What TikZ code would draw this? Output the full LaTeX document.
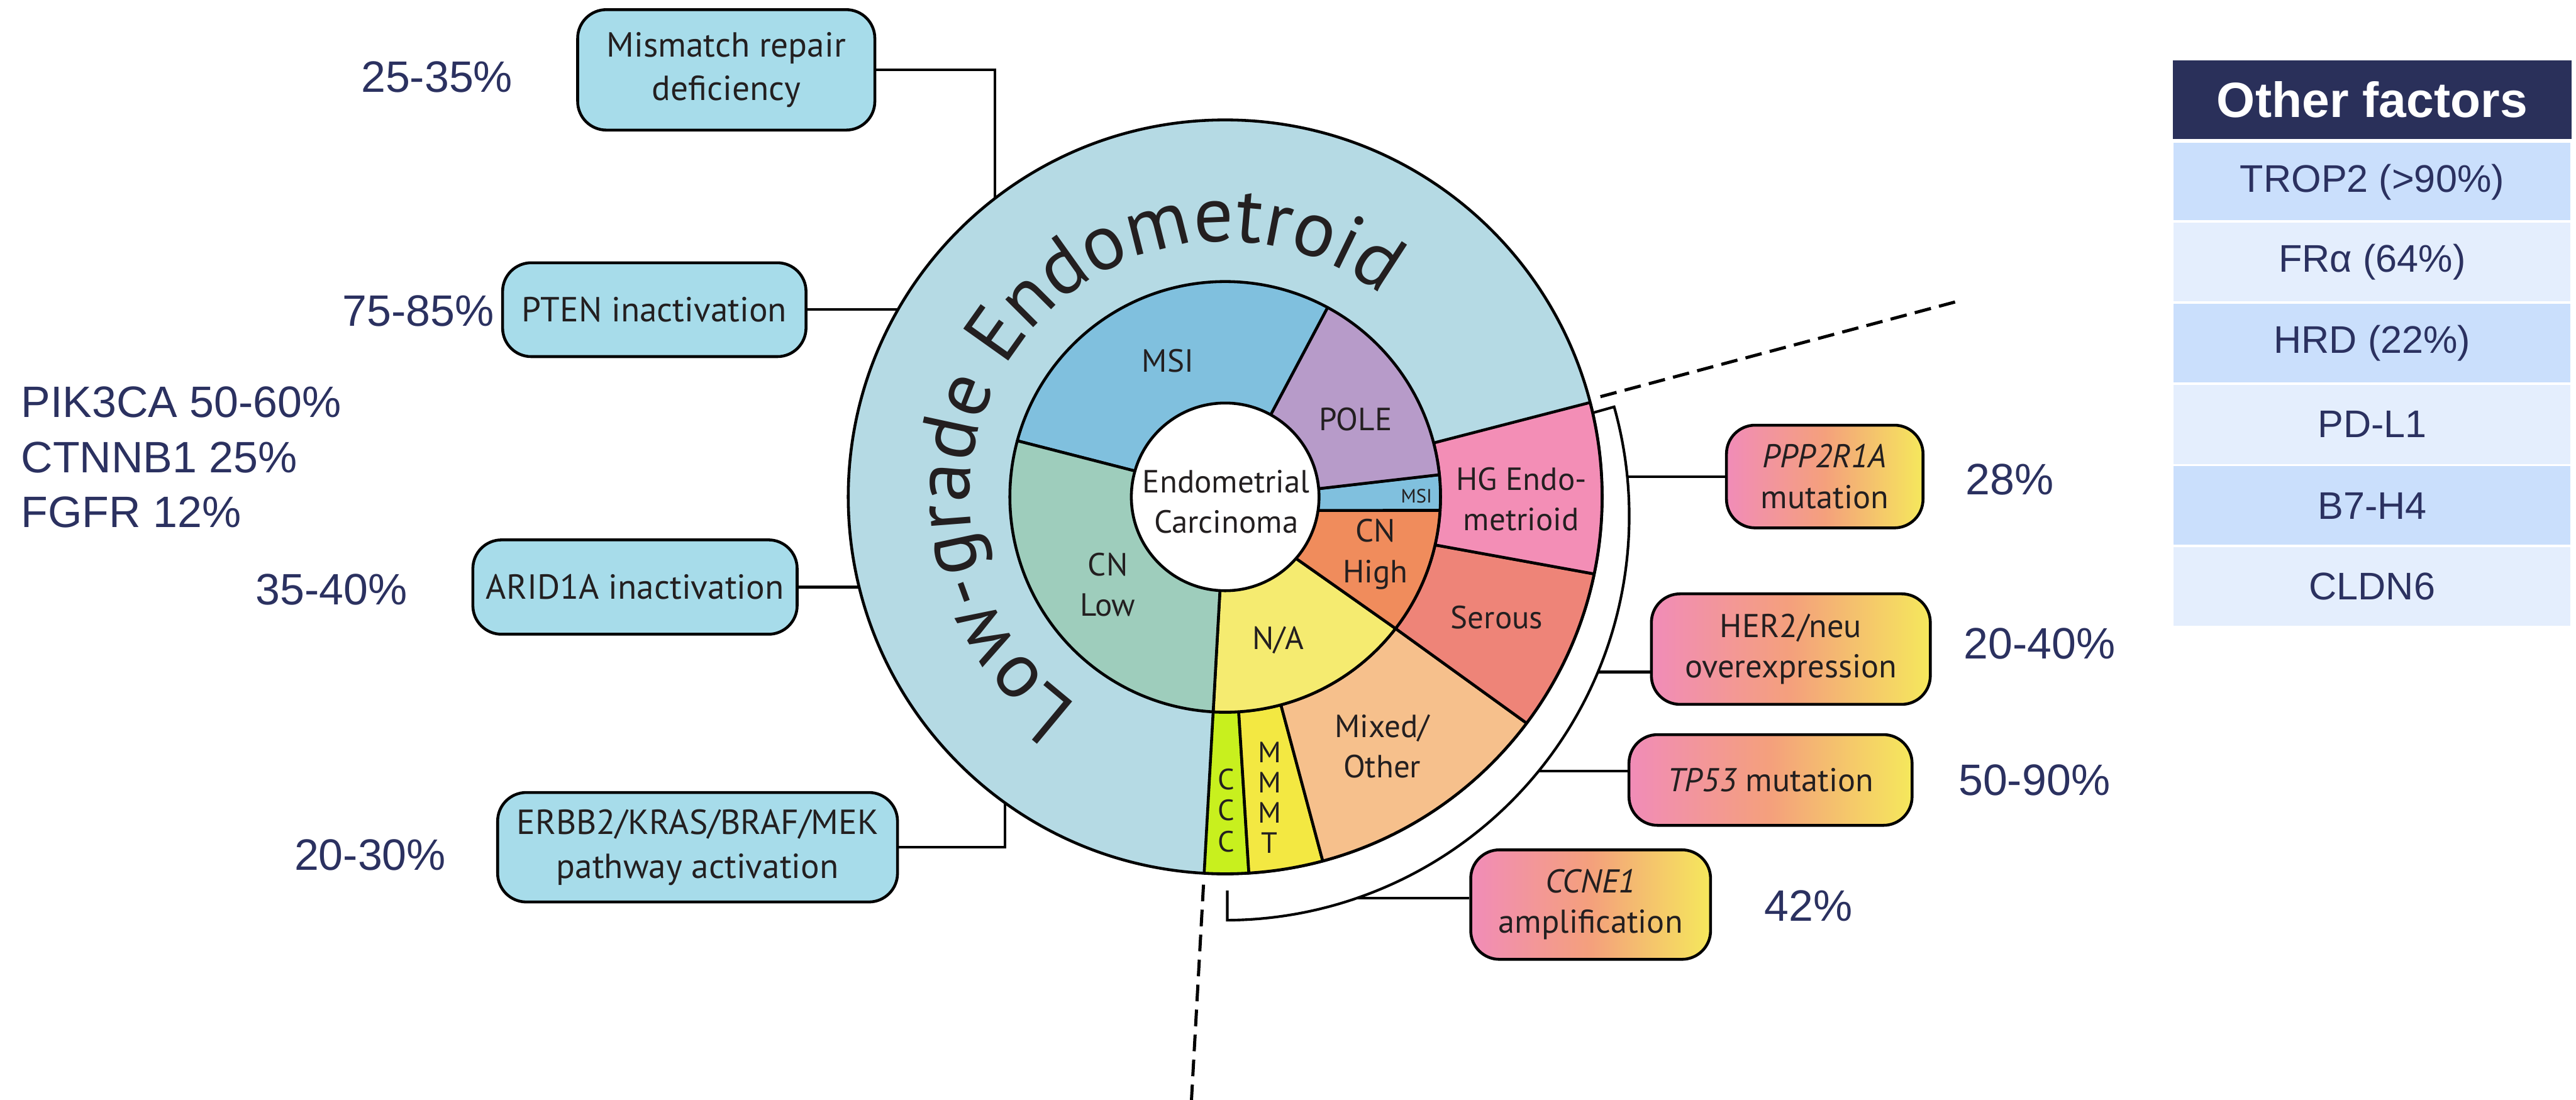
\documentclass[tikz,border=0pt]{standalone}
\usepackage{fontspec}
\setmainfont{PT Sans}
\newfontfamily\arialfont{Liberation Sans}
\usetikzlibrary{decorations.text}

\definecolor{lowgrade}{RGB}{181,218,228}
\definecolor{msiblue}{RGB}{128,192,222}
\definecolor{polepurple}{RGB}{183,155,201}
\definecolor{cnlow}{RGB}{158,205,188}
\definecolor{nayellow}{RGB}{245,235,112}
\definecolor{cnhigh}{RGB}{240,140,92}
\definecolor{hgpink}{RGB}{243,142,182}
\definecolor{serous}{RGB}{238,132,120}
\definecolor{mixed}{RGB}{246,192,140}
\definecolor{mmmt}{RGB}{243,232,66}
\definecolor{ccc}{RGB}{200,240,30}
\definecolor{boxblue}{RGB}{167,220,234}
\definecolor{gradpink}{RGB}{241,140,184}
\definecolor{gradsalmon}{RGB}{244,160,124}
\definecolor{gradyellow}{RGB}{245,232,92}
\definecolor{inkdark}{RGB}{35,31,32}
\definecolor{navy}{RGB}{43,49,96}
\definecolor{headnavy}{RGB}{42,48,90}
\definecolor{rowdark}{RGB}{202,223,252}
\definecolor{rowlight}{RGB}{228,238,253}

\tikzset{
  seg/.style={draw=black, line width=0.055cm, line join=round},
  conn/.style={draw=black, line width=0.05cm},
  guide/.style={draw=black, line width=0.06cm, dash pattern=on 0.32cm off 0.16cm},
  lgbox/.style={draw=black, line width=0.055cm, rounded corners=0.55cm, fill=boxblue,
    align=center, inner sep=0pt, text=inkdark, font=\fontsize{19}{24}\selectfont},
  hgbox/.style={draw=black, line width=0.055cm, rounded corners=0.55cm,
    left color=gradpink, right color=gradyellow, middle color=gradsalmon,
    align=center, inner sep=0pt, text=inkdark, font=\fontsize{18}{22}\selectfont},
  pct/.style={text=navy, inner sep=0pt, font=\arialfont\fontsize{24}{30}\selectfont},
  lbl/.style={align=center, inner sep=0pt, text=inkdark, font=\fontsize{17.5}{22}\selectfont},
  factor/.style={draw=white, line width=0.04cm, minimum width=7.65cm, minimum height=1.555cm,
    text=navy, font=\arialfont\fontsize{21}{25}\selectfont}
}

\begin{document}
\begin{tikzpicture}
\useasboundingbox (0,0) rectangle (49.41,21.09);

% Pie of subtypes
\begin{scope}[shift={(23.50,11.56)}]
  % low-grade disk
  \draw[seg, fill=lowgrade] (0,0) circle[radius=7.23];
  % outer ring, high-grade histotypes
  \draw[seg, fill=ccc] (-93.2:4.13) -- (-93.2:7.23) arc[start angle=-93.2, end angle=-86.4, radius=7.23]
    -- (-86.4:4.13) arc[start angle=-86.4, end angle=-93.2, radius=4.13] -- cycle;
  \draw[seg, fill=mmmt] (-86.4:4.13) -- (-86.4:7.23) arc[start angle=-86.4, end angle=-75, radius=7.23]
    -- (-75:4.13) arc[start angle=-75, end angle=-86.4, radius=4.13] -- cycle;
  \draw[seg, fill=mixed] (-75:4.13) -- (-75:7.23) arc[start angle=-75, end angle=-36.9, radius=7.23]
    -- (-37.7:4.13) arc[start angle=-37.7, end angle=-75, radius=4.13] -- cycle;
  \draw[seg, fill=serous] (-37.7:4.13) -- (-36.9:7.23) arc[start angle=-36.9, end angle=-11.8, radius=7.23]
    -- (-12.9:4.13) arc[start angle=-12.9, end angle=-37.7, radius=4.13] -- cycle;
  \draw[seg, fill=hgpink] (-12.9:4.13) -- (-11.8:7.23) arc[start angle=-11.8, end angle=14.5, radius=7.23]
    -- (14.5:4.13) arc[start angle=14.5, end angle=-12.9, radius=4.13] -- cycle;
  % inner ring, molecular classes
  \draw[seg, fill=nayellow] (-93.2:1.8) -- (-93.2:4.13) arc[start angle=-93.2, end angle=-37.7, radius=4.13] -- (-41:1.8) -- cycle;
  \draw[seg, fill=cnhigh] (-41:1.8) -- (-37.7:4.13) arc[start angle=-37.7, end angle=-3.6, radius=4.13] -- (-8.3:1.8) -- cycle;
  \draw[seg, fill=msiblue] (-8.3:1.8) -- (-3.6:4.13) arc[start angle=-3.6, end angle=5.9, radius=4.13] -- (5:1.8) -- cycle;
  \draw[seg, fill=polepurple] (5:1.8) -- (5.9:4.13) arc[start angle=5.9, end angle=61.6, radius=4.13] -- (61:1.8) -- cycle;
  \draw[seg, fill=msiblue] (61:1.8) -- (61.6:4.13) arc[start angle=61.6, end angle=164.9, radius=4.13] -- (164:1.8) -- cycle;
  \draw[seg, fill=cnlow] (164:1.8) -- (164.9:4.13) arc[start angle=164.9, end angle=266.8, radius=4.13] -- (266.8:1.8) -- cycle;
  % centre
  \draw[seg, fill=white] (0,0) circle[radius=1.8];
  % curved title
  \path[postaction={decorate}, decoration={text along path, text align=center,
      text={|\fontsize{43}{43}\selectfont\color{inkdark}|Low-grade Endometroid}}]
    (234:4.9) arc[start angle=234, end angle=53, radius=4.9];
  % guide lines
  \draw[guide] (14.95:7.45) -- (14.95:14.5);
  \draw[guide] (266.8:7.45) -- (266.8:11.7);
\end{scope}

% bracket round the high-grade ring
\begin{scope}[shift={(23.50,11.19)}]
  \draw[conn, line join=miter] (15.7:7.35) -- (15.7:7.75) arc[start angle=15.7, end angle=-89.7, radius=7.75] -- ++(0,0.57);
\end{scope}

% Pie labels
\node[lbl] (msiA) at (22.40,14.17) {MSI};
\node[lbl] (pole) at (26.00,13.05) {POLE};
\node[lbl] (ec) at (23.52,11.47) {Endometrial\\Carcinoma};
\node[lbl, font=\fontsize{10.5}{12}\selectfont] (msiB) at (27.17,11.57) {MSI};
\node[lbl] (cnlowL) at (21.25,9.88) {CN\\Low};
\node[lbl] (cnhighL) at (26.38,10.46) {CN\\High};
\node[lbl] (na) at (24.52,8.81) {N/A};
\node[lbl] (hg) at (29.18,11.52) {HG Endo-\\metrioid};
\node[lbl] (ser) at (28.71,9.25) {Serous};
\node[lbl] (mix) at (26.51,6.78) {Mixed/\\Other};
\node[lbl, font=\fontsize{16}{16.5}\selectfont] (mmmtL) at (24.35,5.79) {M\\M\\M\\T};
\node[lbl, font=\fontsize{16}{17}\selectfont] (cccL) at (23.52,5.55) {C\\C\\C};

% Low-grade alterations
\node[lgbox, minimum width=5.70cm, minimum height=2.31cm] (mmr) at (13.93,19.75) {Mismatch repair\\deficiency};
\node[lgbox, minimum width=5.82cm, minimum height=1.80cm] (pten) at (12.55,15.15) {PTEN inactivation};
\node[lgbox, minimum width=6.22cm, minimum height=1.81cm] (arid) at (12.18,9.83) {ARID1A inactivation};
\node[lgbox, minimum width=7.67cm, minimum height=2.10cm] (erbb) at (13.38,4.84) {ERBB2/KRAS/BRAF/MEK\\pathway activation};

\coordinate (mmrC) at (19.08,17.28);
\coordinate (ptenC) at (17.22,15.15);
\coordinate (aridC) at (16.48,9.83);
\coordinate (erbbC) at (19.28,5.69);
\draw[conn] (mmr.east) -| (mmrC);
\draw[conn] (pten.east) -- (ptenC);
\draw[conn] (arid.east) -- (aridC);
\draw[conn] (erbb.east) -| (erbbC);

\node[pct] (mmrP) at (8.38,19.61) {25-35\%};
\node[pct] (ptenP) at (8.02,15.13) {75-85\%};
\node[pct] (aridP) at (6.36,9.78) {35-40\%};
\node[pct] (erbbP) at (7.10,4.69) {20-30\%};
\node[pct, anchor=west, align=left] (genes) at (0.40,12.32) {PIK3CA 50-60\%\\CTNNB1 25\%\\FGFR 12\%};

% High-grade alterations
\node[hgbox, minimum width=3.77cm, minimum height=1.97cm] (ppp) at (35.00,11.95) {\textit{PPP2R1A}\\mutation};
\node[hgbox, minimum width=5.35cm, minimum height=2.12cm] (her) at (34.35,8.64) {HER2/neu\\overexpression};
\node[hgbox, minimum width=5.43cm, minimum height=1.74cm] (tp) at (33.96,6.13) {\textit{TP53} mutation};
\node[hgbox, minimum width=4.60cm, minimum height=2.10cm] (ccne) at (30.51,3.74) {\textit{CCNE1}\\amplification};

\coordinate (pppB) at (31.21,11.95);
\coordinate (herB) at (30.65,8.20);
\coordinate (tpB) at (29.51,6.30);
\coordinate (ccneB) at (26.02,3.86);
\draw[conn] (pppB) -- (ppp.west);
\draw[conn] (herB) -- (herB -| her.west);
\draw[conn] (tpB) -- (tpB -| tp.west);
\draw[conn] (ccneB) -- (ccneB -| ccne.west);

\node[pct] (pppP) at (38.55,11.89) {28\%};
\node[pct] (herP) at (39.12,8.74) {20-40\%};
\node[pct] (tpP) at (39.02,6.13) {50-90\%};
\node[pct] (ccneP) at (34.69,3.72) {42\%};

% Other factors table
\node[fill=headnavy, minimum width=7.65cm, minimum height=1.51cm, text=white,
  font=\arialfont\bfseries\fontsize{27}{30}\selectfont] (head) at (45.50,19.175) {Other factors};
\node[factor, fill=rowdark] (trop) at (45.50,17.595) {TROP2 (>90\%)};
\node[factor, fill=rowlight] (fra) at (45.50,16.065) {FRα (64\%)};
\node[factor, fill=rowdark] (hrd) at (45.50,14.51) {HRD (22\%)};
\node[factor, fill=rowlight] (pdl) at (45.50,12.95) {PD-L1};
\node[factor, fill=rowdark] (bsev) at (45.50,11.39) {B7-H4};
\node[factor, fill=rowlight] (cldn) at (45.50,9.84) {CLDN6};
\end{tikzpicture}
\end{document}
